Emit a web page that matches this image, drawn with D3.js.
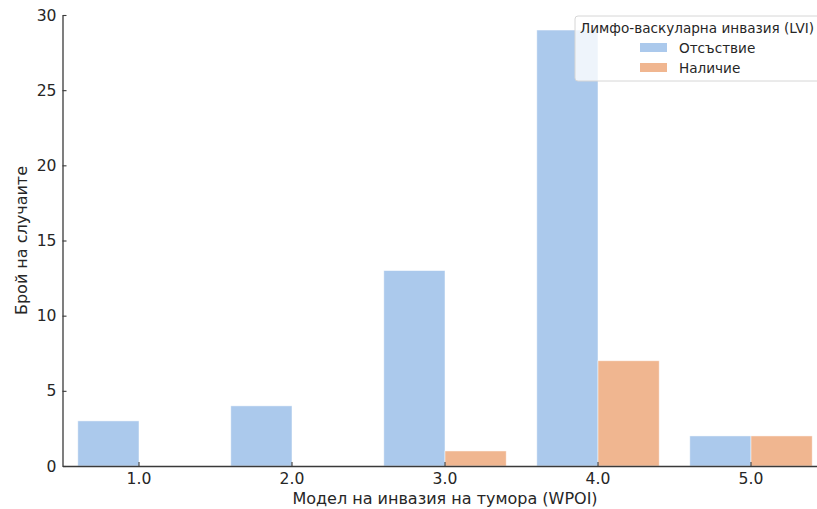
<!DOCTYPE html>
<html>
<head>
<meta charset="utf-8">
<script src="https://cdn.jsdelivr.net/npm/d3@7"></script>
<style>
  html, body { margin: 0; padding: 0; background: #fff; }
  svg { display: block; font-family: "DejaVu Sans", sans-serif; }
</style>
</head>
<body>
<svg id="chart" width="817" height="509"></svg>
<script>
// WPOI categories and LVI counts
const categories = ["1.0", "2.0", "3.0", "4.0", "5.0"];
const seriesNames = ["Отсъствие", "Наличие"];
const absentCounts = [3, 4, 13, 29, 2];
const presentCounts = [0, 0, 1, 7, 2];
const yTicks = [0, 5, 10, 15, 20, 25, 30];
const seriesColors = ["#abc9ec", "#f0b690"];

const svg = d3.select("#chart");
const margin = { left: 62.5, top: 15, bottom: 43 };
const plotRight = 827.5;
const height = 509;

const x = d3.scaleBand()
  .domain(categories)
  .range([margin.left, plotRight])
  .paddingInner(0.2)
  .paddingOuter(0.1);

const xSub = d3.scaleBand()
  .domain(seriesNames)
  .range([0, x.bandwidth()]);

const y = d3.scaleLinear()
  .domain([0, 30])
  .range([height - margin.bottom, margin.top]);

const series = [absentCounts, presentCounts];

// Bars
const groups = svg.append("g")
  .selectAll("g")
  .data(categories)
  .join("g")
  .attr("transform", d => `translate(${x(d)},0)`);

groups.selectAll("rect")
  .data((d, i) => seriesNames.map((s, j) => ({ s, j, v: series[j][i] })))
  .join("rect")
  .attr("x", d => xSub(d.s))
  .attr("width", xSub.bandwidth())
  .attr("y", d => y(d.v))
  .attr("height", d => y(0) - y(d.v))
  .attr("fill", d => seriesColors[d.j])
  .attr("stroke", "#ffffff")
  .attr("stroke-opacity", 0.6)
  .attr("stroke-width", 0.8);

// Axes
const axisColor = "#3a3a3a";
const xAxis = d3.axisBottom(x).tickSizeInner(-4).tickSizeOuter(0).tickPadding(7);
const yAxis = d3.axisLeft(y).tickValues(yTicks).tickSizeInner(-4).tickSizeOuter(0).tickPadding(6);

const gx = svg.append("g")
  .attr("transform", `translate(0,${y(0)})`)
  .call(xAxis);
const gy = svg.append("g")
  .attr("transform", `translate(${margin.left},0)`)
  .call(yAxis);

[gx, gy].forEach(g => {
  g.select(".domain").attr("stroke", axisColor).attr("stroke-width", 1.3);
  g.selectAll(".tick line").attr("stroke", axisColor).attr("stroke-width", 1.1);
  g.selectAll(".tick text")
    .attr("fill", "#262626")
    .style("font-size", "15.6px")
    .style("font-family", "DejaVu Sans, sans-serif");
});

// Axis titles
svg.append("text")
  .attr("x", (margin.left + plotRight) / 2)
  .attr("y", 504)
  .attr("text-anchor", "middle")
  .attr("fill", "#262626")
  .style("font-size", "16px")
  .text("Модел на инвазия на тумора (WPOI)");

svg.append("text")
  .attr("transform", `translate(27,${(y(0) + y(30)) / 2}) rotate(-90)`)
  .attr("text-anchor", "middle")
  .attr("fill", "#262626")
  .style("font-size", "16px")
  .text("Брой на случаите");

// Legend
const legend = svg.append("g").attr("transform", "translate(575,16)");
legend.append("rect")
  .attr("x", 0).attr("y", 0)
  .attr("width", 260).attr("height", 65)
  .attr("rx", 3)
  .attr("fill", "#ffffff").attr("fill-opacity", 0.8)
  .attr("stroke", "#d6d6d6").attr("stroke-width", 1);

legend.append("text")
  .attr("x", 5).attr("y", 17)
  .attr("fill", "#262626")
  .style("font-size", "13.6px")
  .text("Лимфо-васкуларна инвазия (LVI)");

seriesNames.forEach((name, i) => {
  const row = legend.append("g").attr("transform", `translate(65,${27 + i * 20})`);
  row.append("rect")
    .attr("width", 27).attr("height", 9)
    .attr("fill", seriesColors[i]);
  row.append("text")
    .attr("x", 39).attr("y", 9.5)
    .attr("fill", "#262626")
    .style("font-size", "13.6px")
    .text(name);
});
</script>
</body>
</html>
